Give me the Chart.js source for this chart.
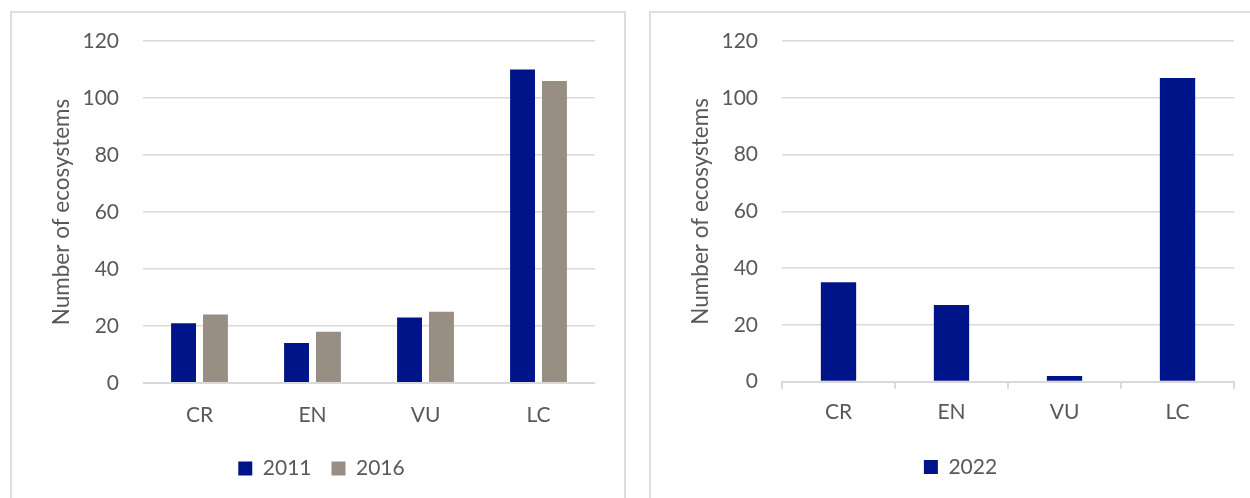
<!DOCTYPE html>
<html lang="en">
<head>
  <meta charset="UTF-8">
  <title>Number of ecosystems by threat category</title>
  <script src="https://cdn.jsdelivr.net/npm/chart.js"></script>
  <style>
    * { margin: 0; padding: 0; box-sizing: border-box; }
    body {
      width: 1250px;
      height: 498px;
      overflow: hidden;
      position: relative;
      background: #fff;
    }
    .frame {
      position: absolute;
      top: 11px;
      width: 616px;
      height: 540px;
      border: 2px solid #dedede;
    }
    .holder { position: absolute; top: 12px; }
    #frameLeft, #holderLeft { left: 10px; }
    #frameRight, #holderRight { left: 649px; }
  </style>
</head>
<body>

<div class="frame" id="frameLeft"></div>
<div class="frame" id="frameRight"></div>
<div class="holder" id="holderLeft"><canvas id="chartLeft" width="615" height="520"></canvas></div>
<div class="holder" id="holderRight"><canvas id="chartRight" width="615" height="520"></canvas></div>

<script>
const categories = ['CR', 'EN', 'VU', 'LC'];
const values2011 = [21, 14, 23, 110];
const values2016 = [24, 18, 25, 106];
const values2022 = [35, 27, 2, 107];
const yTicks = [0, 20, 40, 60, 80, 100, 120];

const navy = '#00148a';
const taupe = '#988e84';
const textGray = '#595959';
const gridGray = '#d9d9d9';

Chart.defaults.font.family = 'Lato, "Open Sans", sans-serif';
Chart.defaults.color = textGray;

// shared layout for both panels; the 2022 panel has an axis line with tick marks
function buildOptions(p) {
  return {
    responsive: false,
    animation: false,
    devicePixelRatio: 1,
    layout: { padding: { top: 29, right: 30, left: 38, bottom: p.bottomPad } },
    plugins: {
      legend: {
        position: 'bottom',
        labels: {
          boxWidth: 14,
          boxHeight: 14,
          padding: 20,
          color: textGray,
          font: { size: 21 }
        }
      },
      tooltip: { enabled: false }
    },
    scales: {
      x: {
        grid: {
          display: p.tickMarks,
          drawOnChartArea: false,
          offset: true,
          color: gridGray,
          lineWidth: 2,
          tickLength: 7
        },
        border: { display: p.tickMarks, color: gridGray, width: 2 },
        ticks: { padding: p.labelPad, color: textGray, font: { size: 21 } },
        afterFit: scale => { scale.height = p.axisHeight; }
      },
      y: {
        min: 0,
        max: 120,
        afterBuildTicks: scale => { scale.ticks = yTicks.map(v => ({ value: v })); },
        // invisible tick marks keep the labels off the plot without padding the top edge
        ticks: { padding: 4, color: textGray, font: { size: 21 } },
        grid: {
          drawTicks: true,
          tickLength: 20,
          tickColor: 'transparent',
          color: gridGray,
          lineWidth: ctx => (ctx.tick && ctx.tick.value === 0 ? 2 : 1.5)
        },
        border: { display: false },
        title: {
          display: true,
          text: 'Number of ecosystems',
          color: textGray,
          font: { size: 22.5 },
          padding: { top: 0, bottom: 0 }
        },
        afterFit: scale => { scale.width = 95; }
      }
    }
  };
}

new Chart(document.getElementById('chartLeft'), {
  type: 'bar',
  data: {
    labels: categories,
    datasets: [
      { label: '2011', data: values2011, backgroundColor: navy, categoryPercentage: 0.565, barPercentage: 0.78 },
      { label: '2016', data: values2016, backgroundColor: taupe, categoryPercentage: 0.565, barPercentage: 0.78 }
    ]
  },
  options: buildOptions({ tickMarks: false, labelPad: 13, axisHeight: 55, bottomPad: 43 })
});

new Chart(document.getElementById('chartRight'), {
  type: 'bar',
  data: {
    labels: categories,
    datasets: [
      { label: '2022', data: values2022, backgroundColor: navy, categoryPercentage: 0.3125, barPercentage: 1 }
    ]
  },
  options: buildOptions({ tickMarks: true, labelPad: 11, axisHeight: 54.8, bottomPad: 44.5 })
});
</script>

</body>
</html>
